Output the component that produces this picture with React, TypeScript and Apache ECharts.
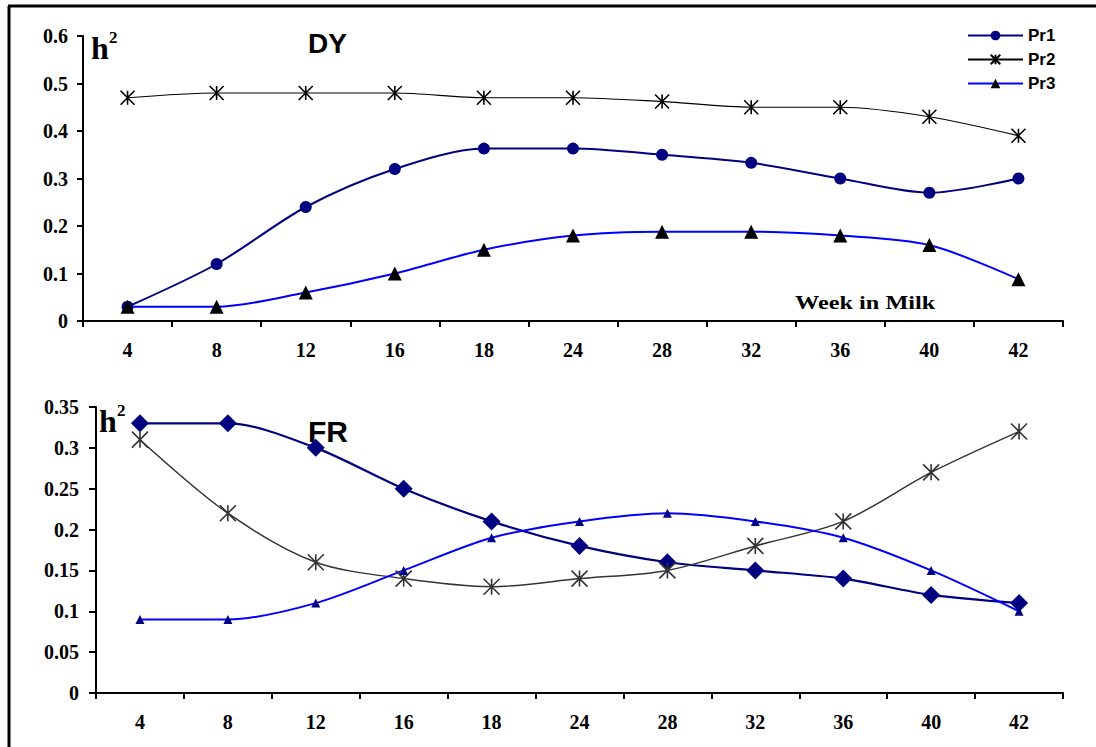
import React, { useEffect, useRef } from "react";
import * as echarts from "echarts";

const weeks = ["4", "8", "12", "16", "18", "24", "28", "32", "36", "40", "42"];

const dyPr1 = [0.03, 0.12, 0.24, 0.32, 0.363, 0.363, 0.35, 0.333, 0.3, 0.27, 0.3];
const dyPr2 = [0.47, 0.48, 0.48, 0.48, 0.47, 0.47, 0.462, 0.45, 0.45, 0.43, 0.39];
const dyPr3 = [0.03, 0.03, 0.06, 0.1, 0.15, 0.18, 0.188, 0.188, 0.18, 0.16, 0.088];

const frPr1 = [0.33, 0.33, 0.3, 0.25, 0.21, 0.18, 0.16, 0.15, 0.14, 0.12, 0.11];
const frPr2 = [0.31, 0.22, 0.16, 0.14, 0.13, 0.14, 0.15, 0.18, 0.21, 0.27, 0.32];
const frPr3 = [0.09, 0.09, 0.11, 0.15, 0.19, 0.21, 0.22, 0.21, 0.19, 0.15, 0.1];

const ASTERISK = "path://M0,0L10,10M10,0L0,10M5,0L5,10";

export default function App() {
  const ref = useRef<HTMLDivElement>(null);
  useEffect(() => {
    document.body.style.margin = "0";
    const chart = echarts.init(ref.current!, null, { renderer: "svg" });
    const serifLabel = {
      fontFamily: "Liberation Serif",
      fontWeight: "bold" as const,
      fontSize: 20,
      color: "#000",
    };
    const axisLine = { show: true, lineStyle: { color: "#000", width: 2 } };
    const xAxisCommon = {
      type: "category" as const,
      data: weeks,
      boundaryGap: true,
      axisLine,
      axisTick: { show: true, length: 6, lineStyle: { color: "#000", width: 2 } },
      axisLabel: { ...serifLabel, margin: 19 },
      splitLine: { show: false },
    };
    const fmt = (v: number) => String(+v.toFixed(2));
    chart.setOption({
      animation: false,
      backgroundColor: "#fff",
      grid: [
        { left: 83, right: 33, top: 36, height: 285 },
        { left: 96, right: 33, top: 407, height: 286 },
      ],
      xAxis: [
        { ...xAxisCommon, gridIndex: 0 },
        { ...xAxisCommon, gridIndex: 1 },
      ],
      yAxis: [
        {
          type: "value",
          gridIndex: 0,
          min: 0,
          max: 0.6,
          interval: 0.1,
          axisLine,
          axisTick: { show: true, length: 6, lineStyle: { color: "#000", width: 2 } },
          axisLabel: { ...serifLabel, margin: 15, formatter: fmt },
          splitLine: { show: false },
        },
        {
          type: "value",
          gridIndex: 1,
          min: 0,
          max: 0.35,
          interval: 0.05,
          axisLine,
          axisTick: { show: true, length: 7, lineStyle: { color: "#000", width: 2 } },
          axisLabel: { ...serifLabel, margin: 17, formatter: fmt },
          splitLine: { show: false },
        },
      ],
      legend: {
        orient: "vertical",
        left: 962,
        top: 22,
        itemWidth: 55,
        itemHeight: 12,
        itemGap: 7,
        data: ["Pr1", "Pr2", "Pr3"],
        textStyle: {
          fontFamily: "Liberation Sans",
          fontWeight: "bold",
          fontSize: 17,
          color: "#000",
        },
      },
      graphic: [
        { type: "line", shape: { x1: 9, y1: 6, x2: 9, y2: 747 }, style: { stroke: "#000", lineWidth: 3 } },
        { type: "line", shape: { x1: 8, y1: 6, x2: 1096, y2: 6 }, style: { stroke: "#000", lineWidth: 3 } },
        { type: "text", x: 308, y: 43, style: { text: "DY", font: "bold 28px 'Liberation Sans'", fill: "#000", verticalAlign: "middle" } },
        { type: "text", x: 308, y: 431, style: { text: "FR", font: "bold 30px 'Liberation Sans'", fill: "#000", verticalAlign: "middle" } },
        { type: "text", x: 91, y: 48, style: { text: "h", font: "bold 32px 'Liberation Serif'", fill: "#000", verticalAlign: "middle" } },
        { type: "text", x: 109, y: 37, style: { text: "2", font: "bold 17px 'Liberation Serif'", fill: "#000", verticalAlign: "middle" } },
        { type: "text", x: 99, y: 421, style: { text: "h", font: "bold 32px 'Liberation Serif'", fill: "#000", verticalAlign: "middle" } },
        { type: "text", x: 117, y: 410, style: { text: "2", font: "bold 17px 'Liberation Serif'", fill: "#000", verticalAlign: "middle" } },
        { type: "text", x: 795, y: 303, scaleX: 1.35, style: { text: "Week in Milk", font: "bold 18px 'Liberation Serif'", fill: "#000", verticalAlign: "middle" } },
      ],
      series: [
        {
          name: "Pr1", type: "line", xAxisIndex: 0, yAxisIndex: 0, data: dyPr1, smooth: 0.3,
          symbol: "circle", symbolSize: 12,
          lineStyle: { color: "#000080", width: 2 }, itemStyle: { color: "#000080" },
        },
        {
          name: "Pr2", type: "line", xAxisIndex: 0, yAxisIndex: 0, data: dyPr2, smooth: 0.3,
          symbol: ASTERISK, symbolSize: 14,
          lineStyle: { color: "#000", width: 1.2 }, itemStyle: { color: "#000", borderColor: "#000", borderWidth: 1.6 },
        },
        {
          name: "Pr3", type: "line", xAxisIndex: 0, yAxisIndex: 0, data: dyPr3, smooth: 0.3,
          symbol: "triangle", symbolSize: 14,
          lineStyle: { color: "#0000ff", width: 2 }, itemStyle: { color: "#000" },
        },
        {
          name: "Pr1", type: "line", xAxisIndex: 1, yAxisIndex: 1, data: frPr1, smooth: 0.3,
          symbol: "diamond", symbolSize: 18,
          lineStyle: { color: "#000080", width: 2.2 }, itemStyle: { color: "#000080" },
        },
        {
          name: "Pr2", type: "line", xAxisIndex: 1, yAxisIndex: 1, data: frPr2, smooth: 0.3,
          symbol: ASTERISK, symbolSize: 16,
          lineStyle: { color: "#333", width: 1.5 }, itemStyle: { color: "#333", borderColor: "#333", borderWidth: 1.6 },
        },
        {
          name: "Pr3", type: "line", xAxisIndex: 1, yAxisIndex: 1, data: frPr3, smooth: 0.3,
          symbol: "triangle", symbolSize: 9,
          lineStyle: { color: "#0000ff", width: 2 }, itemStyle: { color: "#000080" },
        },
      ],
    });
    return () => chart.dispose();
  }, []);
  return <div ref={ref} style={{ width: 1096, height: 747 }} />;
}
